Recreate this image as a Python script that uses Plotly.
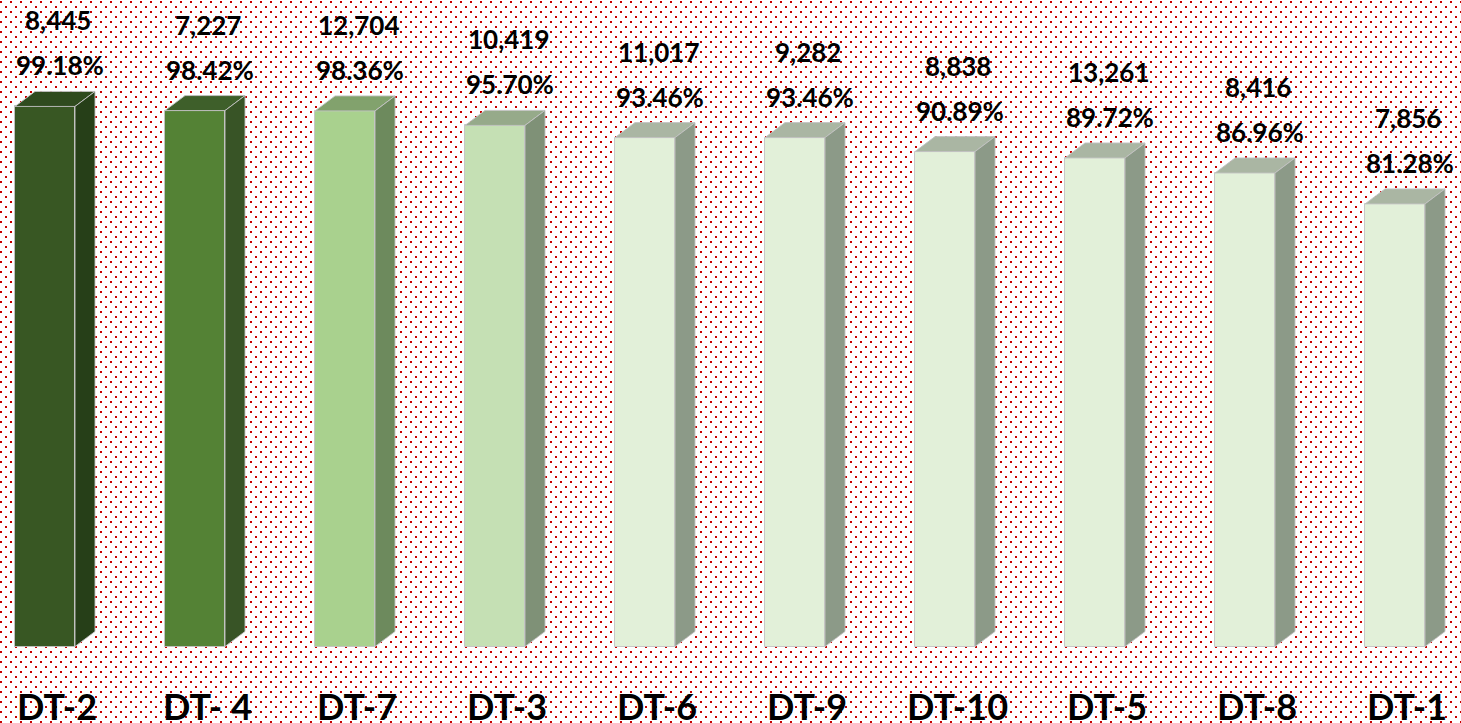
import base64
import plotly.graph_objects as go

# ---- data ----
categories = ["DT-2", "DT- 4", "DT-7", "DT-3", "DT-6", "DT-9", "DT-10", "DT-5", "DT-8", "DT-1"]
counts = [8445, 7227, 12704, 10419, 11017, 9282, 8838, 13261, 8416, 7856]
pcts = [99.18, 98.42, 98.36, 95.70, 93.46, 93.46, 90.89, 89.72, 86.96, 81.28]

# ---- styles ----
front_colors = ["#385723", "#548235", "#a9d18e", "#c5e0b4"] + ["#e2f0d9"] * 6
top_colors = ["#2f4b1e", "#3e5f2a", "#82a26d", "#96aa8a"] + ["#aab6a3"] * 6
side_colors = ["#263f18", "#385426", "#6d8a5d", "#7f9177"] + ["#8c9a88"] * 6
edge = "rgba(195,195,195,0.9)"

W, H = 1461, 723
px_per_cat = 150.0
y_min, y_max = -14.05, 118.73
px_per_unit = H / (y_max - y_min)
x_min = -55 / px_per_cat
x_max = x_min + W / px_per_cat

front_w = 60 / px_per_cat
front_off = -40 / px_per_cat
dx = 20 / px_per_cat
dy = 15 / px_per_unit

FONT = "Lato"

# background dotted pattern
svg = (
    f'<svg xmlns="http://www.w3.org/2000/svg" width="{W}" height="{H}">'
    '<defs><pattern id="p" width="10" height="10" patternUnits="userSpaceOnUse">'
    '<rect width="10" height="10" fill="#ffffff"/>'
    '<rect x="0" y="1" width="2" height="2" fill="#c80000"/>'
    '<rect x="5" y="6" width="2" height="2" fill="#c80000"/>'
    '</pattern></defs>'
    f'<rect width="{W}" height="{H}" fill="url(#p)"/></svg>'
)
bg_src = "data:image/svg+xml;base64," + base64.b64encode(svg.encode()).decode()

xs = list(range(len(categories)))

fig = go.Figure()
fig.add_trace(go.Bar(
    x=xs, y=pcts, width=front_w, offset=front_off,
    marker=dict(color=front_colors, line=dict(color=edge, width=1)),
    hoverinfo="skip", showlegend=False,
))

shapes = []
annotations = []
for k, (v, c, cat) in enumerate(zip(pcts, counts, categories)):
    x0 = k + front_off
    x1 = x0 + front_w
    top_path = (f"M {x0},{v} L {x1},{v} L {x1 + dx},{v + dy} "
                f"L {x0 + dx},{v + dy} Z")
    side_path = (f"M {x1},0 L {x1 + dx},{dy} L {x1 + dx},{v + dy} "
                 f"L {x1},{v} Z")
    shapes.append(dict(type="path", path=top_path, xref="x", yref="y",
                       fillcolor=top_colors[k], line=dict(color=edge, width=1)))
    shapes.append(dict(type="path", path=side_path, xref="x", yref="y",
                       fillcolor=side_colors[k], line=dict(color=edge, width=1)))
    annotations.append(dict(x=k, y=v + dy, xref="x", yref="y", yshift=71, xshift=3,
                            text=f"{c:,}", showarrow=False, yanchor="middle",
                            font=dict(family=FONT, size=26, color="#000000", weight="bold")))
    annotations.append(dict(x=k, y=v + dy, xref="x", yref="y", yshift=26, xshift=5,
                            text=f"{v:.2f}%", showarrow=False, yanchor="middle",
                            font=dict(family=FONT, size=26, color="#000000", weight="bold")))
    annotations.append(dict(x=k, y=0, xref="x", yref="y", yshift=-59, xshift=2,
                            text=cat, showarrow=False, yanchor="middle",
                            font=dict(family=FONT, size=36, color="#000000", weight="bold")))

fig.update_layout(
    width=W, height=H,
    margin=dict(l=0, r=0, t=0, b=0),
    paper_bgcolor="#ffffff",
    plot_bgcolor="rgba(0,0,0,0)",
    xaxis=dict(range=[x_min, x_max], visible=False, fixedrange=True),
    yaxis=dict(range=[y_min, y_max], visible=False, fixedrange=True),
    shapes=shapes,
    annotations=annotations,
    images=[dict(source=bg_src, xref="paper", yref="paper", x=0, y=1,
                 sizex=1, sizey=1, xanchor="left", yanchor="top",
                 sizing="stretch", layer="below")],
    bargap=0,
)

fig.write_html(
    "out.html",
    config={"displayModeBar": False},
    post_script="document.body.style.margin='0';document.body.style.overflow='hidden';",
)
